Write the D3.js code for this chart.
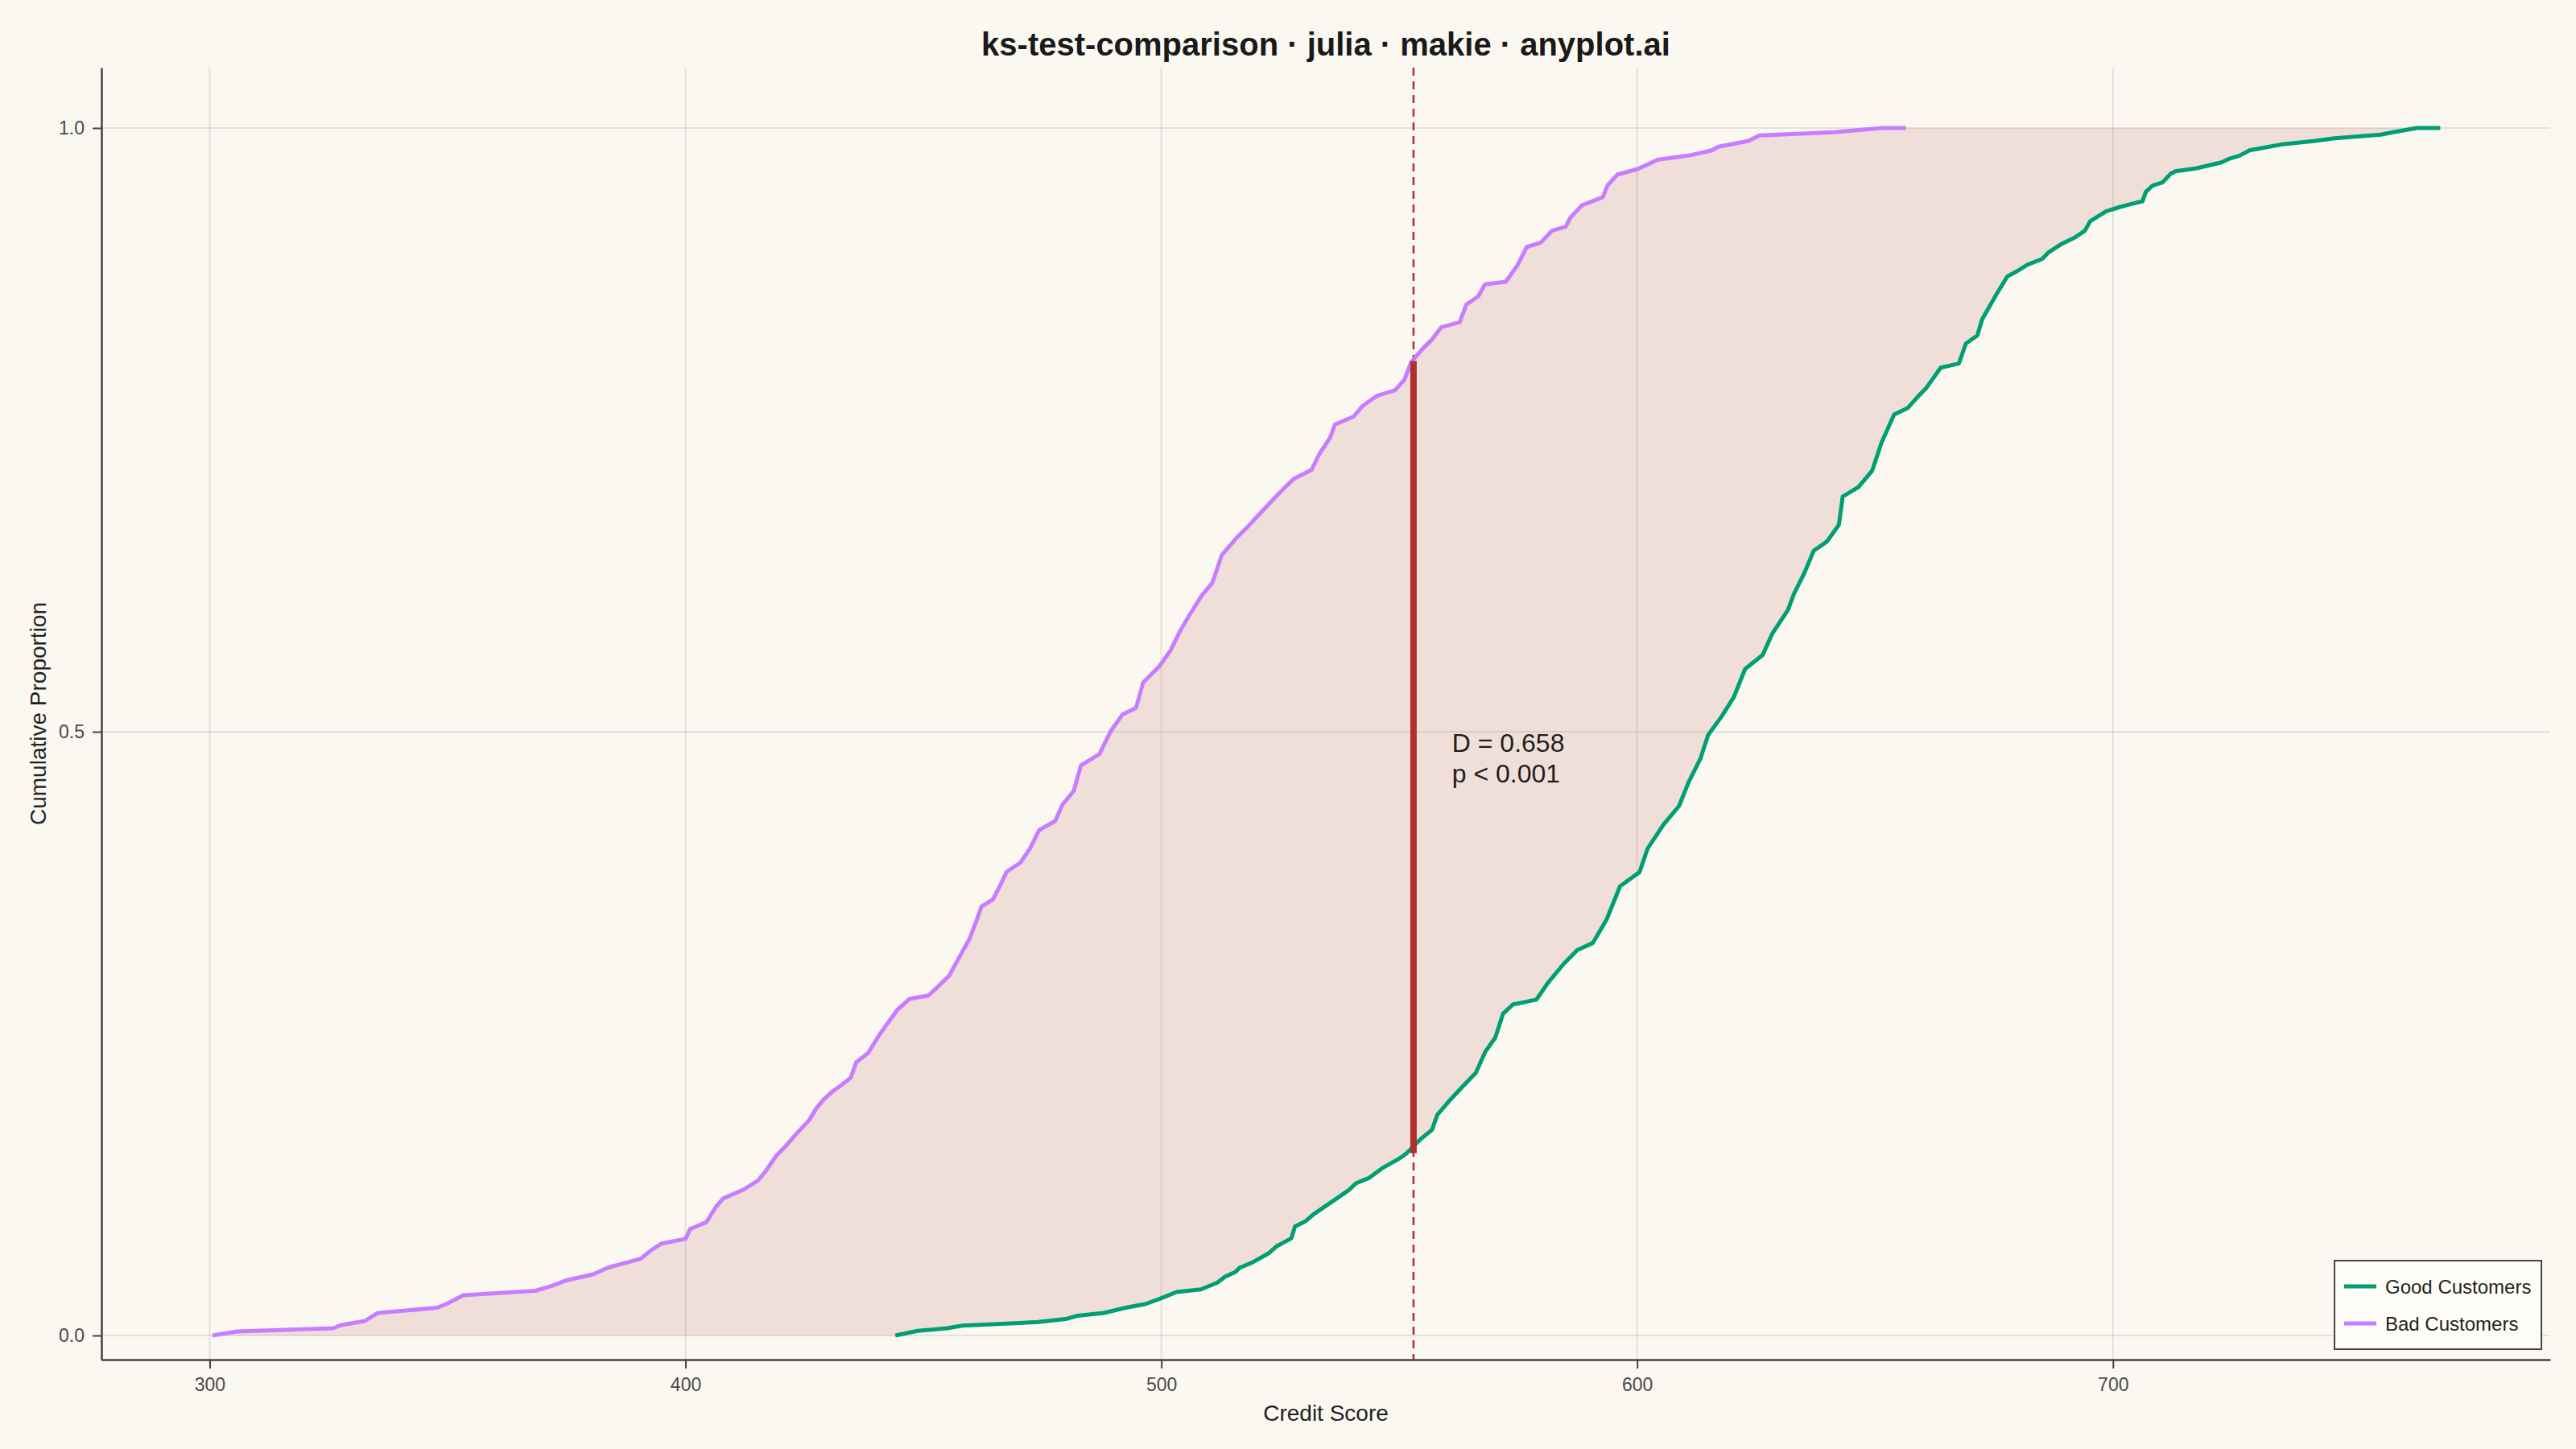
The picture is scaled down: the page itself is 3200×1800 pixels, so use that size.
<!DOCTYPE html>
<html>
<head>
<meta charset="utf-8">
<script src="https://cdn.jsdelivr.net/npm/d3@7"></script>
<style>
  html, body { margin: 0; padding: 0; background: #faf8f1; }
  svg { display: block; font-family: "Liberation Sans", Arial, Helvetica, sans-serif; }
</style>
</head>
<body>
<svg id="chart" width="3200" height="1800"></svg>
<script>
// ---------------- data ----------------
const titleText = "ks-test-comparison \u00b7 julia \u00b7 makie \u00b7 anyplot.ai";
const xLabel = "Credit Score";
const yLabel = "Cumulative Proportion";
const seriesNames = ["Good Customers", "Bad Customers"];

const xTicks = [300, 400, 500, 600, 700];
const yTicks = [0, 0.5, 1.0];
const yTickLabels = ["0.0", "0.5", "1.0"];

// Bad customers ECDF knots (score, cumulative proportion)
const badScores = [300.6, 305.7, 326.0, 327.5, 332.6, 335.3, 347.8, 349.7, 353.3, 368.4, 371.9, 375.0, 380.6, 383.6,
  390.6, 392.9, 394.9, 400.0, 401.0, 404.4, 406.4, 407.9, 412.3, 415.2, 416.7, 417.7, 419.1, 421.1, 423.5, 426.0,
  427.4, 428.9, 430.8, 432.8, 434.7, 435.9, 438.4, 440.6, 444.4, 447.1, 451.0, 452.9, 455.4, 457.8, 459.7, 461.2,
  462.2, 464.6, 466.1, 467.5, 470.4, 472.4, 474.3, 477.7, 479.2, 481.6, 483.1, 487.0, 489.4, 491.8, 494.7, 496.2,
  499.6, 502.0, 503.9, 505.9, 508.3, 510.7, 512.7, 515.6, 518.0, 521.0, 523.9, 526.3, 527.8, 531.6, 533.1, 535.5,
  536.5, 540.4, 542.3, 545.3, 549.1, 551.1, 552.5, 554.9, 556.9, 558.8, 562.7, 564.1, 566.6, 568.0, 572.4, 574.8,
  576.8, 579.7, 582.1, 585.0, 586.0, 588.4, 592.8, 593.8, 595.9, 600.1, 604.4, 610.8, 615.7, 617.1, 620.0, 623.4,
  625.7, 641.4, 651.6, 656.5];
const badCDF = [0.000, 0.0033, 0.0060, 0.0085, 0.0120, 0.0186, 0.0230, 0.0260, 0.0333, 0.0370, 0.0411, 0.0457, 0.0507, 0.0560,
  0.0636, 0.0709, 0.0760, 0.0801, 0.0882, 0.0939, 0.1065, 0.1134, 0.1210, 0.1283, 0.1353, 0.1410, 0.1490, 0.1570, 0.1679, 0.1784,
  0.1876, 0.1949, 0.2018, 0.2075, 0.2133, 0.2264, 0.2340, 0.2482, 0.2692, 0.2788, 0.2815, 0.2883, 0.2979, 0.3151, 0.3285, 0.3439,
  0.3553, 0.3611, 0.3725, 0.3840, 0.3917, 0.4032, 0.4185, 0.4261, 0.4395, 0.4510, 0.4721, 0.4816, 0.5007, 0.5141, 0.5199, 0.5409,
  0.5543, 0.5677, 0.5831, 0.5965, 0.6117, 0.6232, 0.6462, 0.6596, 0.6691, 0.6818, 0.6940, 0.7036, 0.7093, 0.7170, 0.7293, 0.7438,
  0.7545, 0.7610, 0.7698, 0.7782, 0.7828, 0.7916, 0.8060, 0.8171, 0.8249, 0.8349, 0.8393, 0.8538, 0.8605, 0.8705, 0.8727, 0.8860,
  0.9015, 0.9049, 0.9149, 0.9182, 0.9260, 0.9360, 0.9427, 0.9527, 0.9615, 0.9660, 0.9738, 0.9771, 0.9815, 0.9845, 0.9867, 0.9893,
  0.9938, 0.9965, 1.0000, 1.0000];

// Good customers ECDF knots (score, cumulative proportion)
const goodScores = [444.1, 448.8, 455.0, 458.1, 474.1, 479.9, 482.4, 487.9, 492.9, 496.6, 499.7, 503.2, 508.3, 511.8,
  513.4, 515.6, 516.4, 519.1, 522.6, 524.2, 527.3, 528.1, 530.4, 532.0, 535.9, 539.4, 540.9, 543.6, 546.3, 548.3,
  549.8, 551.4, 554.5, 556.9, 558.0, 560.4, 563.2, 566.1, 568.1, 570.2, 571.8, 573.9, 578.8, 581.2, 584.5, 587.4,
  590.7, 593.6, 596.4, 600.5, 602.2, 605.5, 608.8, 610.8, 613.3, 614.9, 617.8, 620.3, 622.7, 626.4, 628.4, 631.7,
  633.0, 635.0, 637.1, 639.9, 642.4, 643.2, 646.5, 649.4, 651.4, 654.0, 656.9, 658.9, 660.8, 663.8, 667.6, 669.1,
  671.5, 672.5, 675.4, 677.8, 679.9, 682.0, 685.1, 686.5, 689.3, 692.0, 694.1, 695.2, 698.6, 701.4, 703.5, 706.2,
  706.9, 708.3, 710.4, 712.1, 713.1, 717.6, 722.8, 724.2, 726.6, 728.7, 735.6, 742.5, 746.6, 756.3, 759.1, 763.9,
  768.8];
const goodCDF = [0.000, 0.0038, 0.0060, 0.0082, 0.0111, 0.0136, 0.0164, 0.0187, 0.0233, 0.0260, 0.0304, 0.0360, 0.0382, 0.0438,
  0.0487, 0.0527, 0.0560, 0.0604, 0.0682, 0.0738, 0.0804, 0.0904, 0.0949, 0.1004, 0.1109, 0.1204, 0.1260, 0.1304, 0.1382, 0.1427,
  0.1460, 0.1504, 0.1627, 0.1704, 0.1827, 0.1938, 0.2057, 0.2175, 0.2351, 0.2468, 0.2664, 0.2742, 0.2781, 0.2918, 0.3075, 0.3192,
  0.3251, 0.3447, 0.3720, 0.3837, 0.4033, 0.4229, 0.4385, 0.4581, 0.4777, 0.4972, 0.5129, 0.5285, 0.5520, 0.5637, 0.5813, 0.6009,
  0.6146, 0.6302, 0.6498, 0.6576, 0.6713, 0.6948, 0.7026, 0.7163, 0.7398, 0.7627, 0.7682, 0.7771, 0.7849, 0.8015, 0.8049, 0.8215,
  0.8282, 0.8415, 0.8615, 0.8771, 0.8815, 0.8867, 0.8915, 0.8971, 0.9042, 0.9093, 0.9149, 0.9227, 0.9311, 0.9345, 0.9367, 0.9393,
  0.9471, 0.9522, 0.9549, 0.9620, 0.9642, 0.9667, 0.9715, 0.9742, 0.9771, 0.9815, 0.9865, 0.9893, 0.9915, 0.9945, 0.9967, 1.0000,
  1.0000];

// KS statistic location
const ksScore = 553;
const ksLow = 0.151;
const ksHigh = 0.807;
const annotLines = ["D = 0.658", "p < 0.001"];

// ---------------- styles ----------------
const colorGood = "#009e73";
const colorBad = "#c77dff";
const colorKS = "#b03030";
const bg = "#faf8f1";

// ---------------- layout ----------------
const W = 3200, H = 1800;
const plot = { left: 126, right: 3168, top: 84, bottom: 1689 };

const svg = d3.select("#chart");
svg.append("rect").attr("width", W).attr("height", H).attr("fill", bg);

const x = d3.scaleLinear().domain([277.25, 791.9]).range([plot.left, plot.right]);
const y = d3.scaleLinear().domain([-0.02, 1.05]).range([plot.bottom, plot.top]);

// grid
const grid = svg.append("g");
grid.selectAll("line.gx").data(xTicks).join("line")
  .attr("x1", d => x(d)).attr("x2", d => x(d))
  .attr("y1", plot.top).attr("y2", plot.bottom)
  .attr("stroke", "rgba(0,0,0,0.09)").attr("stroke-width", 2);
grid.selectAll("line.gy").data(yTicks).join("line")
  .attr("y1", d => y(d)).attr("y2", d => y(d))
  .attr("x1", plot.left).attr("x2", plot.right)
  .attr("stroke", "rgba(0,0,0,0.09)").attr("stroke-width", 2);

// helpers
const good = goodScores.map((s, i) => [s, goodCDF[i]]);
const bad = badScores.map((s, i) => [s, badCDF[i]]);
function evalCurve(pts, s) {
  if (s <= pts[0][0]) return 0;
  if (s >= pts[pts.length - 1][0]) return 1;
  const i = d3.bisector(d => d[0]).right(pts, s);
  const a = pts[i - 1], b = pts[i];
  const t = (s - a[0]) / (b[0] - a[0]);
  return a[1] + t * (b[1] - a[1]);
}

// fill between curves
const grid2 = Array.from(new Set(goodScores.concat(badScores))).sort((a, b) => a - b);
const areaData = grid2.map(s => ({ s, lo: evalCurve(good, s), hi: evalCurve(bad, s) }));
svg.append("path")
  .datum(areaData)
  .attr("d", d3.area().x(d => x(d.s)).y0(d => y(Math.min(d.lo, d.hi))).y1(d => y(Math.max(d.lo, d.hi))))
  .attr("fill", colorKS).attr("fill-opacity", 0.12);

// dashed vertical line at KS location
svg.append("line")
  .attr("x1", x(ksScore)).attr("x2", x(ksScore))
  .attr("y1", plot.top).attr("y2", plot.bottom)
  .attr("stroke", colorKS).attr("stroke-width", 2.5)
  .attr("stroke-dasharray", "10,7");

// ECDF lines
const line = d3.line().x(d => x(d[0])).y(d => y(d[1])).curve(d3.curveLinear);
svg.append("path").datum(good).attr("d", line)
  .attr("fill", "none").attr("stroke", colorGood).attr("stroke-width", 5).attr("stroke-linejoin", "round");
svg.append("path").datum(bad).attr("d", line)
  .attr("fill", "none").attr("stroke", colorBad).attr("stroke-width", 5).attr("stroke-linejoin", "round");

// KS segment
svg.append("line")
  .attr("x1", x(ksScore)).attr("x2", x(ksScore))
  .attr("y1", y(ksLow)).attr("y2", y(ksHigh))
  .attr("stroke", colorKS).attr("stroke-width", 8);

// annotation
const annX = x(ksScore + 8.1);
const ann = svg.append("text")
  .attr("x", annX).attr("y", y(0.5) + 24.5)
  .attr("font-size", 32).attr("fill", "#1e1e1e");
annotLines.forEach((t, i) => {
  ann.append("tspan").attr("x", annX).attr("dy", i === 0 ? 0 : 38).text(t);
});

// axes
const axisColor = "#444444";
const xAxis = svg.append("g").attr("transform", `translate(0,${plot.bottom})`)
  .call(d3.axisBottom(x).tickValues(xTicks).tickFormat(d3.format("d")).tickSize(11).tickSizeOuter(0).tickPadding(12));
const yAxis = svg.append("g").attr("transform", `translate(${plot.left},0)`)
  .call(d3.axisLeft(y).tickValues(yTicks).tickFormat((d, i) => yTickLabels[i]).tickSize(11).tickSizeOuter(0).tickPadding(10));
[xAxis, yAxis].forEach(g => {
  g.select(".domain").attr("stroke", axisColor).attr("stroke-width", 2.5);
  g.selectAll(".tick line").attr("stroke", axisColor).attr("stroke-width", 2);
  g.selectAll(".tick text").attr("font-size", 23).attr("fill", "#4a4a4a")
    .attr("font-family", "'Liberation Sans', Arial, sans-serif");
});

// axis labels
const cx = (plot.left + plot.right) / 2;
const cy = (plot.top + plot.bottom) / 2;
svg.append("text").attr("x", cx).attr("y", 1765).attr("text-anchor", "middle")
  .attr("font-size", 28).attr("fill", "#222").text(xLabel);
svg.append("text").attr("transform", `translate(57,${cy}) rotate(-90)`).attr("text-anchor", "middle")
  .attr("font-size", 28).attr("fill", "#222").text(yLabel);

// title
svg.append("text").attr("x", cx).attr("y", 69).attr("text-anchor", "middle")
  .attr("font-size", 40).attr("font-weight", "bold").attr("fill", "#1a1a1a").text(titleText);

// legend
const lg = svg.append("g").attr("transform", "translate(2900,1566)");
lg.append("rect").attr("width", 257).attr("height", 110)
  .attr("fill", "#fffdf8").attr("stroke", "#444").attr("stroke-width", 2);
const legendColors = [colorGood, colorBad];
seriesNames.forEach((name, i) => {
  const yy = 32 + i * 46;
  lg.append("line").attr("x1", 12).attr("x2", 52).attr("y1", yy).attr("y2", yy)
    .attr("stroke", legendColors[i]).attr("stroke-width", 5);
  lg.append("text").attr("x", 63).attr("y", yy).attr("dominant-baseline", "central")
    .attr("font-size", 24).attr("fill", "#222").text(name);
});
</script>
</body>
</html>
